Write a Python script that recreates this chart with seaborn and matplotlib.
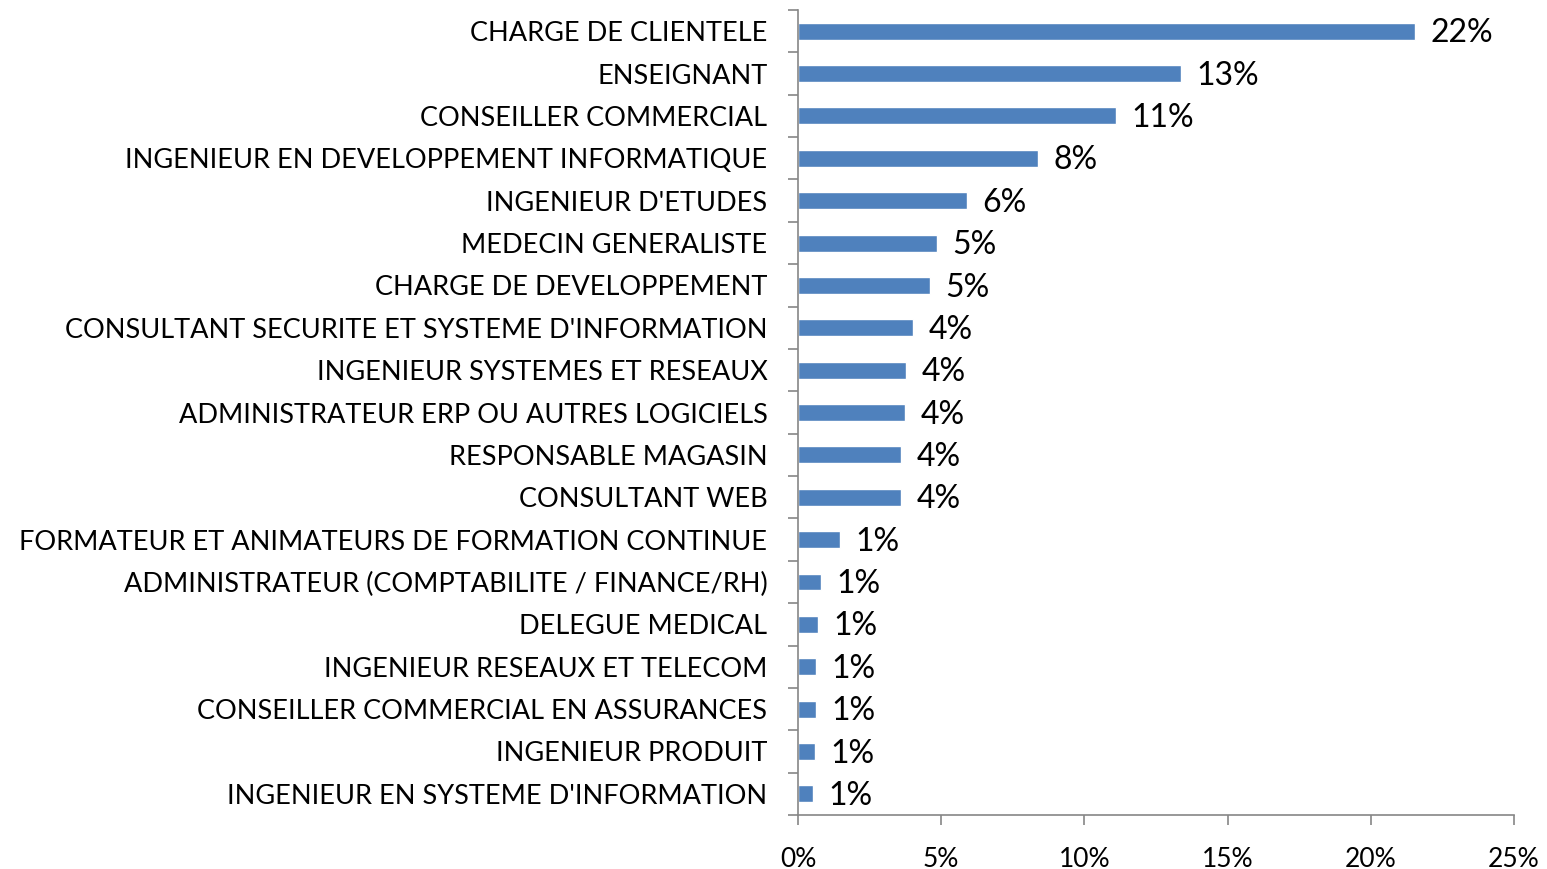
import numpy as np
import pandas as pd
import matplotlib
matplotlib.use("Agg")
import matplotlib.pyplot as plt
import seaborn as sns
from matplotlib.ticker import FuncFormatter, MultipleLocator

# job titles and their share (%)
jobs = [
    "CHARGE DE CLIENTELE",
    "ENSEIGNANT",
    "CONSEILLER COMMERCIAL",
    "INGENIEUR EN DEVELOPPEMENT INFORMATIQUE",
    "INGENIEUR D'ETUDES",
    "MEDECIN GENERALISTE",
    "CHARGE DE DEVELOPPEMENT",
    "CONSULTANT SECURITE ET SYSTEME D'INFORMATION",
    "INGENIEUR SYSTEMES ET RESEAUX",
    "ADMINISTRATEUR ERP OU AUTRES LOGICIELS",
    "RESPONSABLE MAGASIN",
    "CONSULTANT WEB",
    "FORMATEUR ET ANIMATEURS DE FORMATION CONTINUE",
    "ADMINISTRATEUR (COMPTABILITE / FINANCE/RH)",
    "DELEGUE MEDICAL",
    "INGENIEUR RESEAUX ET TELECOM",
    "CONSEILLER COMMERCIAL EN ASSURANCES",
    "INGENIEUR PRODUIT",
    "INGENIEUR EN SYSTEME D'INFORMATION",
]
shares = [21.54, 13.37, 11.10, 8.38, 5.90, 4.85, 4.61, 4.02, 3.77, 3.74,
          3.60, 3.60, 1.47, 0.80, 0.70, 0.63, 0.63, 0.59, 0.52]

df = pd.DataFrame({"job": jobs, "share": shares})

sns.set_theme(style="white")
plt.rcParams["font.family"] = ["Lato", "DejaVu Sans"]
plt.rcParams["text.color"] = "black"
plt.rcParams["xtick.color"] = "black"
plt.rcParams["ytick.color"] = "black"

fig = plt.figure(figsize=(15.47, 8.69), dpi=100)
ax = fig.add_axes([0.5158, 0.0621, 0.4629, 0.9264])

sns.barplot(data=df, y="job", x="share", orient="h", color="#4F81BD",
            saturation=1, width=0.4, ax=ax)

for i, v in enumerate(shares):
    ax.text(v + 0.55, i + 0.05, f"{v:.0f}%", va="center", ha="left",
            fontsize=23, color="black")

ax.set_xlim(0, 25)
ax.set_ylim(len(jobs) - 0.5, -0.5)
ax.xaxis.set_major_locator(MultipleLocator(5))
ax.xaxis.set_major_formatter(FuncFormatter(lambda x, _: f"{x:.0f}%"))
ax.set_xlabel("")
ax.set_ylabel("")

# category boundary ticks on y axis
ax.set_yticks(np.arange(len(jobs)))
ax.set_yticklabels(jobs, fontsize=19.5)
ax.set_yticks(np.arange(len(jobs) + 1) - 0.5, minor=True)
ax.tick_params(axis="y", which="major", left=True, length=0, pad=22)
ax.tick_params(axis="y", which="minor", left=True, length=7, width=1.2,
               color="#868686", direction="out")
ax.tick_params(axis="x", which="major", bottom=True, length=7, width=1.2,
               color="#868686", labelcolor="black", direction="out",
               labelsize=19, pad=16)

for side in ["top", "right"]:
    ax.spines[side].set_visible(False)
for side in ["left", "bottom"]:
    ax.spines[side].set_color("#868686")
    ax.spines[side].set_linewidth(1.2)

fig.savefig("out.png", dpi=100)
